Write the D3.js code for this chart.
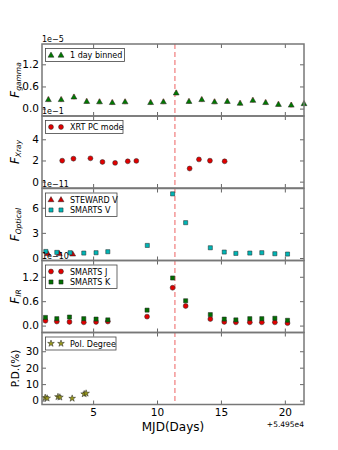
<!DOCTYPE html>
<html>
<head>
<meta charset="utf-8">
<script src="https://cdn.jsdelivr.net/npm/d3@7"></script>
<style>
  body { margin: 0; background: #fff; }
  svg { font-family: "DejaVu Sans", sans-serif; }
</style>
</head>
<body>
<svg id="svg"></svg>
<script>

const width = 338;
const height = 450;

// x = MJD - 54950
const gammaX = [1.5,2.5,3.5,4.5,5.5,6.5,7.5,9.5,10.5,11.5,12.5,13.5,14.5,15.5,16.5,17.5,18.5,19.5,20.5,21.5];
const gammaY = [0.25,0.25,0.32,0.20,0.19,0.17,0.19,0.17,0.19,0.43,0.20,0.25,0.19,0.20,0.15,0.23,0.17,0.12,0.10,0.14];

const xrayX = [2.58,3.46,4.79,5.73,6.72,7.71,8.38,12.55,13.28,14.14,15.29];
const xrayY = [1.98,2.17,2.2,1.86,1.77,1.92,1.96,1.24,2.1,1.98,1.92];

const stewardX = [1.45,2.35,3.4];
const stewardY = [0.55,0.55,0.5];
const smartsVX = [1.30,2.16,3.2,4.27,5.23,6.15,9.24,11.22,12.24,14.17,15.26,16.17,17.26,18.2,19.22,20.21];
const smartsVY = [0.78,0.67,0.63,0.59,0.63,0.75,1.5,7.66,4.22,1.22,0.71,0.55,0.59,0.63,0.51,0.47];

const irX = [1.27,2.16,3.15,4.27,5.23,6.15,9.22,11.22,12.24,14.17,15.26,16.17,17.26,18.2,19.22,20.21];
const smartsJY = [0.12,0.10,0.09,0.08,0.09,0.10,0.22,0.93,0.48,0.16,0.09,0.08,0.08,0.08,0.08,0.06];
const smartsKY = [0.20,0.17,0.21,0.17,0.16,0.14,0.38,1.17,0.61,0.27,0.16,0.14,0.17,0.17,0.18,0.13];

const pdX = [1.25,1.4,2.25,2.4,3.36,4.3,4.45];
const pdY = [1.8,1.4,2.3,2.0,1.3,4.0,4.4];

const flareDay = 11.4;
const xTicks = [5,10,15,20];

const left = 42, right = 304;
const panelH = 72;
const tops = [44, 116, 188.5, 260.5, 332.5];

const svg = d3.select("#svg")
      .attr("width", width)
      .attr("height", height);

svg.append("rect").attr("width", width).attr("height", height).attr("fill", "#fff");

const x = d3.scaleLinear().domain([1.0, 21.5]).range([left, right]);

const panels = [
  { domain: [-0.2, 1.75], ticks: [0, 0.6, 1.2], fmt: d3.format(".1f"), offset: "1e\u22125", label: ["F", "gamma"] },
  { domain: [-0.6, 6.2], ticks: [0, 2, 4], fmt: d3.format("d"), offset: "1e\u22121", label: ["F", "Xray"] },
  { domain: [-0.3, 8.3], ticks: [0, 3, 6], fmt: d3.format("d"), offset: "1e\u221211", label: ["F", "Optical"] },
  { domain: [-0.17, 1.6], ticks: [0, 0.6, 1.2], fmt: d3.format(".1f"), offset: "1e\u221210", label: ["F", "IR"] },
  { domain: [-2.4, 41.4], ticks: [0, 10, 20, 30], fmt: d3.format("d"), offset: null, label: null }
];

panels.forEach((p, i) => {
  p.top = tops[i];
  p.y = d3.scaleLinear().domain(p.domain).range([p.top + panelH, p.top]);
});

// dashed flare line behind the markers
svg.append("line")
   .attr("x1", x(flareDay)).attr("x2", x(flareDay))
   .attr("y1", tops[0]).attr("y2", tops[4] + panelH)
   .attr("stroke", "#f07c7c")
   .attr("stroke-width", 1.2)
   .attr("stroke-dasharray", "5,3");

const markers = {
  triangle: d3.symbol().type(d3.symbolTriangle).size(15),
  square: d3.symbol().type(d3.symbolSquare).size(17),
  circle: d3.symbol().type(d3.symbolCircle).size(19),
  star: d3.symbol().type(d3.symbolStar).size(14)
};

function drawPoints(g, xs, ys, yScale, shape, fill, err) {
  const pts = xs.map((v, k) => [v, ys[k]]);
  if (err) {
    g.selectAll(null).data(pts).enter().append("line")
      .attr("x1", d => x(d[0]) - 1.2).attr("x2", d => x(d[0]) + 1.2)
      .attr("y1", d => yScale(d[1])).attr("y2", d => yScale(d[1]))
      .attr("stroke", err).attr("stroke-opacity", 0.45).attr("stroke-width", 5.5);
  }
  g.selectAll(null).data(pts).enter().append("path")
    .attr("d", markers[shape])
    .attr("transform", d => `translate(${x(d[0])},${yScale(d[1]) + (shape === "triangle" ? 0.5 : 0)})`)
    .attr("fill", fill)
    .attr("stroke", "#222")
    .attr("stroke-width", 0.5);
}

function legend(g, p, rows, w) {
  const h = rows.length === 1 ? 13 : 23.5;
  const lg = g.append("g").attr("transform", `translate(45.5,${p.top + 4.5})`);
  lg.append("rect").attr("width", w).attr("height", h)
    .attr("fill", "#fff").attr("stroke", "#444").attr("stroke-width", 0.8);
  rows.forEach((r, k) => {
    const cy = 6.5 + k * 10.5;
    [5.5, 15.5].forEach(cx => {
      lg.append("path").attr("d", markers[r.shape])
        .attr("transform", `translate(${cx},${cy + (r.shape === "triangle" ? 0.5 : 0)})`)
        .attr("fill", r.fill).attr("stroke", "#222").attr("stroke-width", 0.5);
    });
    lg.append("text").attr("x", 24.5).attr("y", cy + 3)
      .attr("font-size", 8).attr("fill", "#000").text(r.name);
  });
}

panels.forEach((p, i) => {
  const g = svg.append("g");

  const yl = d3.axisLeft(p.y).tickValues(p.ticks).tickFormat(p.fmt)
      .tickSizeInner(-4).tickSizeOuter(0).tickPadding(3);
  const yr = d3.axisRight(p.y).tickValues(p.ticks).tickFormat("")
      .tickSizeInner(-4).tickSizeOuter(0);
  const xt = d3.axisTop(x).tickValues(xTicks).tickFormat("")
      .tickSizeInner(-4).tickSizeOuter(0);
  const xb = d3.axisBottom(x).tickValues(xTicks)
      .tickFormat(i === 4 ? d3.format("d") : "")
      .tickSizeInner(-4).tickSizeOuter(0).tickPadding(4);

  const axes = [
    g.append("g").attr("transform", `translate(${left},0)`).call(yl),
    g.append("g").attr("transform", `translate(${right},0)`).call(yr),
    g.append("g").attr("transform", `translate(0,${p.top})`).call(xt),
    g.append("g").attr("transform", `translate(0,${p.top + panelH})`).call(xb)
  ];
  axes.forEach(a => {
    a.select(".domain").remove();
    a.selectAll(".tick line").attr("stroke", "#666");
    a.selectAll(".tick text").attr("font-size", 10.5).attr("fill", "#000")
      .attr("font-family", "DejaVu Sans");
  });

  // data
  const dg = svg.append("g");
  if (i === 0) {
    drawPoints(dg, gammaX, gammaY, p.y, "triangle", "#007a00", "#ff6060");
    legend(svg, p, [{ shape: "triangle", fill: "#007a00", name: "1 day binned" }], 79);
  } else if (i === 1) {
    drawPoints(dg, xrayX, xrayY, p.y, "circle", "#e00000");
    legend(svg, p, [{ shape: "circle", fill: "#e00000", name: "XRT PC mode" }], 77.5);
  } else if (i === 2) {
    drawPoints(dg, stewardX, stewardY, p.y, "triangle", "#cc0000");
    drawPoints(dg, smartsVX, smartsVY, p.y, "square", "#00b5b5");
    legend(svg, p, [
      { shape: "triangle", fill: "#cc0000", name: "STEWARD V" },
      { shape: "square", fill: "#00b5b5", name: "SMARTS V" }
    ], 71.5);
  } else if (i === 3) {
    drawPoints(dg, irX, smartsJY, p.y, "circle", "#e00000");
    drawPoints(dg, irX, smartsKY, p.y, "square", "#006e00");
    legend(svg, p, [
      { shape: "circle", fill: "#e00000", name: "SMARTS J" },
      { shape: "square", fill: "#006e00", name: "SMARTS K" }
    ], 71.5);
  } else {
    drawPoints(dg, pdX, pdY, p.y, "star", "#9a9a1a");
    legend(svg, p, [{ shape: "star", fill: "#9a9a1a", name: "Pol. Degree" }], 70.5);
  }

  // spines
  svg.append("rect")
     .attr("x", left).attr("y", p.top)
     .attr("width", right - left).attr("height", panelH)
     .attr("fill", "none").attr("stroke", "#777").attr("stroke-width", 1.5);

  if (p.offset) {
    svg.append("text").attr("x", left).attr("y", p.top - 2)
       .attr("font-size", 8).attr("fill", "#000").text(p.offset);
  }

  // y label
  const cy = p.top + panelH / 2;
  const lab = svg.append("text")
     .attr("transform", `translate(18.5,${cy}) rotate(-90)`)
     .attr("text-anchor", "middle")
     .attr("fill", "#000");
  if (p.label) {
    lab.append("tspan").attr("font-style", "italic").attr("font-size", 12).text(p.label[0]);
    lab.append("tspan").attr("font-style", "italic").attr("font-size", 7.5)
       .attr("dy", 2.5).text(p.label[1]);
  } else {
    lab.attr("font-size", 10.5).text("P.D.(%)");
  }
});

svg.append("text")
   .attr("x", (left + right) / 2).attr("y", 431)
   .attr("text-anchor", "middle").attr("font-size", 12).attr("fill", "#000")
   .text("MJD(Days)");

svg.append("text")
   .attr("x", right).attr("y", 427)
   .attr("text-anchor", "end").attr("font-size", 7.5).attr("fill", "#000")
   .text("+5.495e4");

</script>
</body>
</html>
